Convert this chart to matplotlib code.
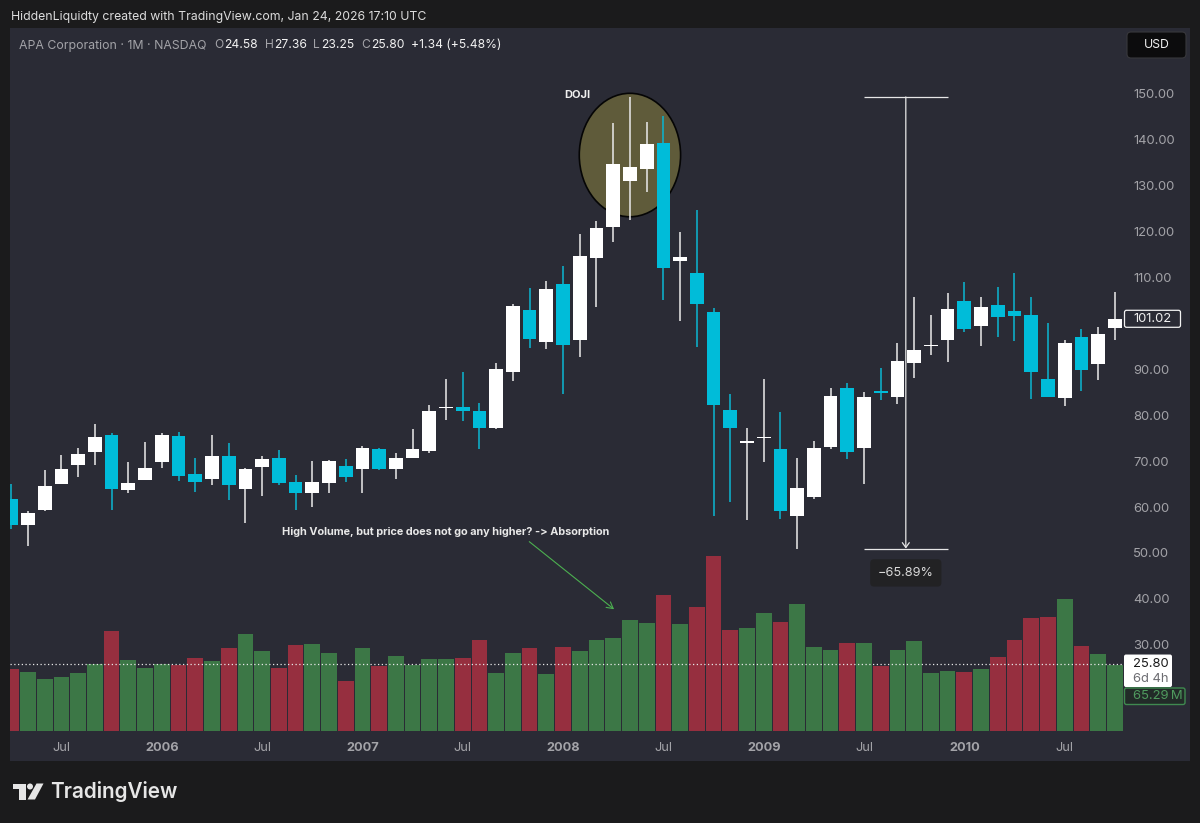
import matplotlib
matplotlib.use('Agg')
import matplotlib.pyplot as plt
from matplotlib.patches import Ellipse, FancyBboxPatch, Polygon, Circle, Rectangle

plt.rcParams['font.family'] = ['Inter', 'DejaVu Sans']

# ---------------------------------- Data ------------------------------------------- #
opens = [61.8, 56.0, 59.4, 65.1, 69.2, 72.1, 75.6, 63.8, 66.0, 69.9, 75.5, 67.2, 66.2, 71.2, 63.9, 68.8, 70.6,
         65.5, 63.1, 65.3, 69.0, 68.2, 72.7, 68.2, 70.6, 72.3, 81.5, 81.8, 80.9, 77.3, 89.4, 102.9, 95.9, 108.6,
         96.4, 114.3, 121.0, 131.0, 133.6, 139.4, 113.6, 111.1, 102.4, 81.1, 73.9, 75.0, 72.6, 58.0, 62.2, 73.1,
         85.9, 72.8, 85.2, 83.9, 91.4, 95.1, 96.3, 105.0, 99.4, 104.0, 102.8, 101.8, 88.0, 83.7, 97.1, 91.2, 99.0]
highs = [65.0, 59.2, 68.1, 71.3, 72.8, 78.2, 76.1, 69.8, 74.2, 76.2, 76.3, 70.6, 75.7, 73.9, 68.6, 71.1, 72.4,
         67.0, 70.1, 70.2, 70.5, 73.4, 72.9, 71.7, 77.0, 82.2, 87.8, 89.4, 82.7, 91.4, 104.2, 107.7, 109.3, 112.5,
         119.6, 122.4, 143.7, 149.36, 144.0, 145.1, 119.9, 124.8, 103.3, 84.6, 77.3, 88.0, 80.7, 70.7, 74.4, 85.9,
         87.0, 85.1, 90.4, 95.8, 105.7, 101.8, 106.6, 109.0, 105.7, 108.0, 111.1, 105.7, 100.0, 96.4, 98.9, 99.2, 106.8]
lows = [55.2, 51.6, 59.1, 65.0, 66.5, 69.2, 59.4, 63.1, 65.9, 68.5, 65.6, 63.2, 64.9, 61.5, 56.6, 62.4, 64.8,
        59.4, 60.1, 63.1, 65.4, 63.1, 68.1, 66.2, 70.6, 71.8, 79.0, 78.8, 72.6, 76.9, 87.5, 94.7, 94.5, 84.6,
        92.6, 103.6, 117.7, 122.5, 128.6, 105.1, 100.5, 94.9, 58.0, 61.1, 57.2, 69.9, 57.5, 50.95, 61.8, 72.7,
        70.4, 65.0, 83.4, 82.4, 88.1, 93.2, 91.7, 98.2, 95.1, 97.1, 96.1, 83.6, 83.9, 82.0, 85.3, 87.6, 96.5]
closes = [56.2, 58.8, 64.6, 68.4, 71.6, 75.3, 63.9, 65.3, 68.6, 75.6, 66.8, 65.4, 71.1, 64.8, 68.4, 70.5, 65.2,
          63.1, 65.4, 70.0, 66.5, 72.9, 68.3, 70.7, 72.6, 80.9, 81.8, 80.9, 77.3, 90.1, 103.9, 96.7, 107.6, 95.3,
          114.7, 120.8, 134.7, 134.0, 139.0, 112.1, 114.5, 104.2, 82.3, 77.2, 74.5, 75.3, 59.1, 64.1, 72.9, 84.3,
          72.1, 84.0, 84.9, 91.9, 94.2, 95.3, 103.2, 98.7, 103.6, 101.4, 101.6, 89.4, 84.0, 95.7, 89.8, 97.8, 101.02]

# volume in millions
volumes = [60.8, 57.8, 50.9, 53.2, 57.4, 66.0, 98.8, 69.6, 61.8, 66.0, 65.3, 72.2, 68.7, 81.5, 95.2, 78.5, 61.8,
           84.7, 85.7, 76.8, 49.0, 81.5, 64.0, 73.9, 65.0, 70.9, 70.9, 71.6, 89.6, 57.4, 76.8, 81.5, 55.8, 82.4,
           78.5, 89.9, 91.3, 109.6, 106.7, 134.0, 105.1, 122.4, 172.7, 99.2, 101.2, 115.9, 107.7, 125.4, 82.4, 79.8,
           87.0, 87.0, 64.3, 79.8, 88.7, 56.8, 58.8, 58.1, 61.4, 73.2, 89.3, 111.0, 112.3, 130.0, 84.0, 76.1, 65.29]
volume_sides = "r g g g g g r g g g r r g r g g r r g g r g r g g g g r r g g r g r g g g g g r g r r r g g r g g g r g r g g g g r g r r r r g r g g".split()

price_ticks = [30, 40, 50, 60, 70, 80, 90, 100, 110, 120, 130, 140, 150]
time_positions = [3, 9, 15, 21, 27, 33, 39, 45, 51, 57, 63]
time_labels = ['Jul', '2006', 'Jul', '2007', 'Jul', '2008', 'Jul', '2009', 'Jul', '2010', 'Jul']

measure_top = 149.36
measure_bottom = 50.95
last_close = 25.80
last_price = 101.02

# ---------------------------------- Colours ---------------------------------------- #
OUTER = '#1b1b1c'
PANEL = '#2a2b35'
TEAL = '#00bcd9'
WHITE = '#ffffff'
VOL_GREEN = '#3c7746'
VOL_RED = '#962f3f'
AXIS_TEXT = '#a3a3a8'

W, H = 1200, 823


def fx(x):
    return x / W


def fy(y):
    return 1 - y / H


fig = plt.figure(figsize=(W / 100, H / 100), dpi=100, facecolor=OUTER)

# panel behind the chart
fig.add_artist(Rectangle((fx(10), fy(761)), 1180 / W, 733 / H, transform=fig.transFigure, fc=PANEL, ec='none', zorder=0))

pos = [fx(10), fy(732), 1113 / W, 704 / H]

# Volume pane ------------------------------------------------------------------------:
vax = fig.add_axes(pos, zorder=1)
vax.set_facecolor('none')
vax.axis('off')
xs = list(range(len(closes)))
vol_colors = [VOL_GREEN if s == 'g' else VOL_RED for s in volume_sides]
vax.bar(xs, volumes, width=0.94, color=vol_colors, linewidth=0)
vax.set_xlim(-0.078, 66.49)
vax.set_ylim(-0.985, 692.5)

# Price pane -------------------------------------------------------------------------:
ax = fig.add_axes(pos, zorder=2)
ax.set_facecolor('none')
for s in ax.spines.values():
    s.set_visible(False)

ax.add_patch(Ellipse((37.0, 136.7), 6.06, 26.9, fc='#5f5b3a', ec='#050505', lw=1.2, zorder=1))

candle_colors = [WHITE if c >= o else TEAL for o, c in zip(opens, closes)]
wick_colors = ['#e4e4e4' if c >= o else '#0cb2cc' for o, c in zip(opens, closes)]
ax.vlines(xs, lows, highs, colors=wick_colors, linewidth=1.15, zorder=2)
ax.bar(xs, [abs(c - o) for o, c in zip(opens, closes)], bottom=[min(o, c) for o, c in zip(opens, closes)],
       width=0.82, color=candle_colors, linewidth=0, zorder=3)

ax.axhline(last_close, color='#e8e8e8', linestyle=(0, (1, 2)), linewidth=0.9, zorder=4)

ax.set_xlim(-0.078, 66.49)
ax.set_ylim(10.99, 164.38)
ax.yaxis.tick_right()
ax.set_yticks(price_ticks)
# 100.00 sits under the last price tag in the reference
ax.set_yticklabels(['' if t == 100 else '%.2f' % t for t in price_ticks])
ax.set_xticks(time_positions)
ax.set_xticklabels(time_labels)
ax.tick_params(axis='y', length=0, pad=7.2, labelsize=9.4, labelcolor=AXIS_TEXT)
ax.tick_params(axis='x', length=0, pad=7.5, labelsize=9.2, labelcolor=AXIS_TEXT)
for lab in ax.get_xticklabels():
    if lab.get_text() != 'Jul':
        lab.set_fontweight('bold')

# Measure tool
ax.hlines([measure_top, measure_bottom], 51, 56, colors='#e6e6e6', linewidth=0.9, zorder=5)
ax.annotate('', xy=(53.5, measure_bottom), xytext=(53.5, measure_top),
            arrowprops=dict(arrowstyle='->,head_length=0.35,head_width=0.25', color='#e6e6e6', lw=0.9, shrinkA=0, shrinkB=0),
            zorder=5)
ax.annotate('\u221265.89%', xy=(53.5, measure_bottom), xytext=(0, -17.5), textcoords='offset points',
            ha='center', va='center', fontsize=9.2, color='#d8d8d8', zorder=6,
            bbox=dict(boxstyle='round,pad=0.6,rounding_size=0.3', fc='#222224', ec='none'))

# Notes on the chart
ax.text(33.86, 149.7, 'DOJI', ha='center', va='center', fontsize=8.0, fontweight='bold', color='#f0f0f0', zorder=6)
ax.text(25.97, 54.5, 'High Volume, but price does not go any higher? -> Absorption', ha='center', va='center',
        fontsize=7.85, fontweight='bold', color='#e8e8e8', zorder=6)
ax.annotate('', xy=(36.05, 37.73), xytext=(30.98, 52.46),
            arrowprops=dict(arrowstyle='->,head_length=0.45,head_width=0.25', color='#4caf50', lw=0.8, shrinkA=0, shrinkB=0),
            zorder=5)


# Tags on the price scale ------------------------------------------------------------:
def y_of(price):
    # pixel row from the top of the picture for a price
    fig_y = fig.transFigure.inverted().transform(ax.transData.transform((0, price)))[1]
    return (1 - fig_y) * H


def box(x0, y0, x1, y1, fc, ec='none', lw=0, rounding=2.0):
    fig.add_artist(FancyBboxPatch((x0, H - y1), x1 - x0, y1 - y0, boxstyle='round,pad=0,rounding_size=%s' % rounding,
                                  transform=None, fc=fc, ec=ec, lw=lw, zorder=5))


def label(x, y, txt, color, size=9.4, ha='left', weight='normal'):
    fig.text(fx(x), fy(y), txt, color=color, fontsize=size, ha=ha, va='center', fontweight=weight, zorder=6)


yp = y_of(last_price)
box(1124.5, yp - 8.5, 1180.5, yp + 8.5, PANEL, ec='#f2f2f2', lw=0.9)
label(1133, yp, '%.2f' % last_price, '#f0f0f0')

yc = y_of(last_close)
box(1124, yc - 9.5, 1172, yc + 23, '#ffffff')
label(1133, yc, '%.2f' % last_close, '#1a1a1a')
label(1133, yc + 14.5, '6d 4h', '#6d6d72')

box(1124.5, 688, 1185, 704.5, '#222b28', ec='#3f8a50', lw=1.0)
label(1133, 696.3, '65.29\u2009M', '#4f9a5e')

box(1127, 32, 1186, 58, '#0c0c0d', ec='#38383c', lw=0.8, rounding=4)
label(1156.5, 45, 'USD', '#f2f2f2', size=8.8, ha='center')

# Header -----------------------------------------------------------------------------:
label(11, 17, 'HiddenLiquidty created with TradingView.com, Jan 24, 2026 17:10 UTC', '#dcdcdc', size=8.85)
label(19, 45.5, 'APA Corporation \u00b7 1M \u00b7 NASDAQ', AXIS_TEXT, size=8.85)
for x, txt, col in [(214, 'O', AXIS_TEXT), (224, '24.58', '#f2f2f2'), (265, 'H', AXIS_TEXT), (274, '27.36', '#f2f2f2'),
                    (313, 'L', AXIS_TEXT), (321, '23.25', '#f2f2f2'), (361, 'C', AXIS_TEXT), (371, '25.80', '#f2f2f2'),
                    (411, '+1.34 (+5.48%)', '#f2f2f2')]:
    label(x, 45.5, txt, col, size=8.7)

# Logo -------------------------------------------------------------------------------:
logo = '#e6e6e6'
fig.add_artist(Polygon([(fx(12.5), fy(783.5)), (fx(26), fy(783.5)), (fx(26), fy(799.5)), (fx(18.5), fy(799.5)),
                        (fx(18.5), fy(788.5)), (fx(12.5), fy(788.5))], transform=fig.transFigure, fc=logo, ec='none', zorder=5))
fig.add_artist(Circle((30, H - 786.5), 3, transform=None, fc=logo, ec='none', zorder=5))
fig.add_artist(Polygon([(fx(36.5), fy(783.5)), (fx(43.5), fy(783.5)), (fx(35), fy(799.5)), (fx(27.5), fy(799.5))],
                       transform=fig.transFigure, fc=logo, ec='none', zorder=5))
label(50.5, 792, 'TradingView', logo, size=14.9, weight='semibold')

fig.savefig('out.png', dpi=100, facecolor=OUTER)
